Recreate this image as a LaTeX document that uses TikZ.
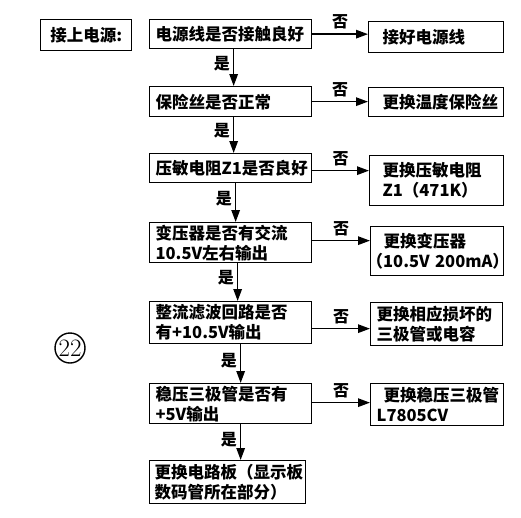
\documentclass[tikz,border=0pt]{standalone}
\usepackage{fontspec}
\newfontfamily\cjk{Noto Sans CJK SC}
\usetikzlibrary{arrows.meta}
\begin{document}
\begin{tikzpicture}[x=1pt,y=-1pt,
  box/.style={draw, line width=1.3pt, anchor=north west, inner sep=0pt, align=left,
    font=\cjk\bfseries\fontsize{16.5}{20}\selectfont},
  arr/.style={line width=1.4pt, -{Triangle[length=12pt,width=8.5pt]}},
  lbl/.style={font=\cjk\bfseries\fontsize{16}{16}\selectfont, inner sep=0pt}]
\useasboundingbox[fill=white] (0,0) rectangle (521,517);

% left column
\node[box, align=center, minimum width=91pt, minimum height=31pt, text width=80pt] (b0) at (40,19) {接上电源:};
\node[box, minimum width=162pt, minimum height=29pt, text width=150pt] (b1) at (149,19) {电源线是否接触良好};
\node[box, minimum width=162pt, minimum height=30pt, text width=150pt] (b2) at (149,86) {保险丝是否正常};
\node[box, minimum width=162pt, minimum height=29pt, text width=150pt] (b3) at (149,153) {压敏电阻Z1是否良好};
\node[box, minimum width=162pt, minimum height=40pt, text width=150pt] (b4) at (149,222) {变压器是否有交流\\10.5V左右输出};
\node[box, minimum width=162pt, minimum height=42pt, text width=150pt] (b5) at (149,301) {整流滤波回路是否\\有+10.5V输出};
\node[box, minimum width=162pt, minimum height=40pt, text width=150pt] (b6) at (149,383) {稳压三极管是否有\\+5V输出};
\node[box, minimum width=156pt, minimum height=43pt, text width=146pt] (b7) at (149,460) {更换电路板（显示板\\数码管所在部分）};

% right column
\node[box, minimum width=135pt, minimum height=31pt, text width=123pt] (r1) at (368,21) {\hspace*{8pt}接好电源线};
\node[box, minimum width=135pt, minimum height=29pt, text width=123pt] (r2) at (368,87) {\hspace*{8pt}更换温度保险丝};
\node[box, minimum width=134pt, minimum height=50pt, text width=122pt] (r3) at (369,155) {\hspace*{7pt}更换压敏电阻\\\hspace*{7pt}Z1（471K）};
\node[box, minimum width=133pt, minimum height=49pt, text width=121pt] (r4) at (370,226) {\hspace*{7pt}更换变压器\\\hspace*{-10pt}（10.5V~200mA）};
\node[box, minimum width=132pt, minimum height=43pt, text width=120pt] (r5) at (370,302) {更换相应损坏的\\三极管或电容};
\node[box, minimum width=133pt, minimum height=42pt, text width=121pt] (r6) at (370,383) {\hspace*{7pt}更换稳压三极管\\L7805CV};

% circled number
\node[circle, draw, line width=1.4pt, inner sep=0pt, minimum size=30pt,
  font=\fontsize{25}{25}\selectfont] (c22) at (70,348) {22};

% yes arrows
\draw[arr] ([xshift=3pt]b1.south) -- ([xshift=3pt]b1.south |- b2.north) node[lbl, pos=0.4, left=3pt] {是};
\draw[arr] ([xshift=3pt]b2.south) -- ([xshift=3pt]b2.south |- b3.north) node[lbl, pos=0.38, left=3pt] {是};
\draw[arr] ([xshift=5pt]b3.south) -- ([xshift=5pt]b3.south |- b4.north) node[lbl, pos=0.4, left=3pt] {是};
\draw[arr] ([xshift=7pt]b4.south) -- ([xshift=7pt]b4.south |- b5.north) node[lbl, pos=0.38, left=3pt] {是};
\draw[arr] ([xshift=10pt]b5.south) -- ([xshift=10pt]b5.south |- b6.north) node[lbl, pos=0.42, left=3pt] {是};
\draw[arr] ([xshift=10pt]b6.south) -- ([xshift=10pt]b6.south |- b7.north) node[lbl, pos=0.42, left=3pt] {是};

% no arrows
\draw[arr] (b1.east) -- (b1.east -| r1.west) node[lbl, midway, above=4pt] {否};
\draw[arr] (b2.east) -- (b2.east -| r2.west) node[lbl, midway, above=4pt] {否};
\draw[arr] ([yshift=-2.5pt]b3.east) -- ([yshift=-2.5pt]b3.east -| r3.west) node[lbl, midway, above=4pt] {否};
\draw[arr] ([yshift=2pt]b4.east) -- ([yshift=2pt]b4.east -| r4.west) node[lbl, midway, above=4pt] {否};
\draw[arr] ([yshift=-6pt]b5.east) -- ([yshift=-6pt]b5.east -| r5.west) node[lbl, midway, above=4pt] {否};
\draw[arr] ([yshift=1pt]b6.east) -- ([yshift=1pt]b6.east -| r6.west) node[lbl, midway, above=4pt] {否};
\end{tikzpicture}
\end{document}
